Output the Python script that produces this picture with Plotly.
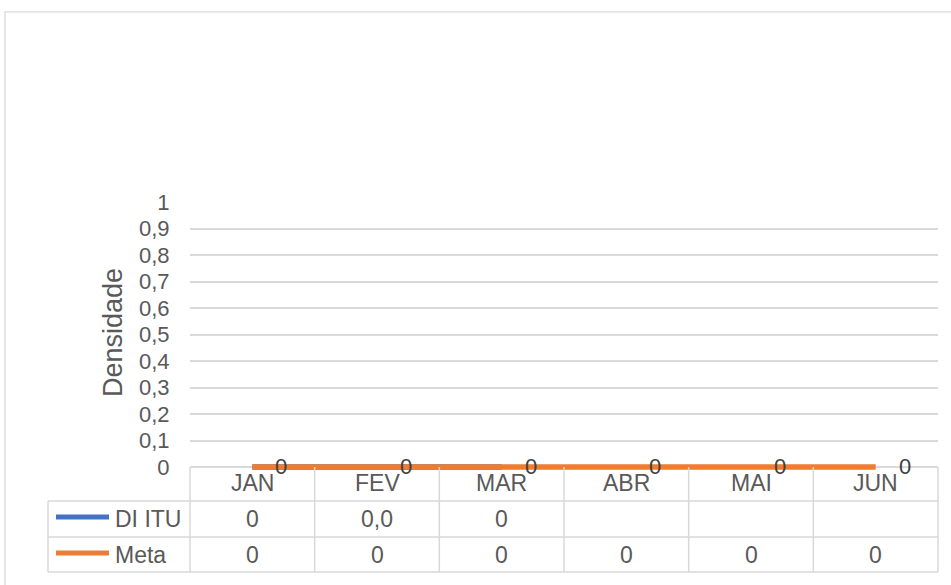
import plotly.graph_objects as go

categories = ["JAN", "FEV", "MAR", "ABR", "MAI", "JUN"]
di_itu = [0, 0.0, 0, None, None, None]
meta = [0, 0, 0, 0, 0, 0]
series_names = ["DI ITU", "Meta"]
y_title = "Densidade"

BLUE = "#4472C4"
ORANGE = "#ED7D31"
GRID = "#D9D9D9"
TXT = "#595959"
FONT = "Liberation Sans, Arial, sans-serif"

W, H = 951, 585
Y_MIN, Y_MAX = -0.03, 1.0
TOP_PIX, ONE_TENTH_PIX = 202, 26.5
PLOT_H = (Y_MAX - Y_MIN) * ONE_TENTH_PIX * 10
L, R, T = 190, 13, TOP_PIX
B = H - T - PLOT_H
PW, PH = W - L - R, PLOT_H
BOTTOM_PIX = H - B


def py(pix):
    """pixel row -> paper y"""
    return (BOTTOM_PIX - pix) / PH


def px(pix):
    """pixel column -> paper x"""
    return (pix - L) / PW


def fmt(v):
    return "" if v is None else str(v).replace(".", ",")


fig = go.Figure()
fig.add_trace(go.Scatter(x=categories, y=di_itu, mode="lines", name=series_names[0],
                         line=dict(color=BLUE, width=5.5), connectgaps=False,
                         hoverinfo="skip"))
fig.add_trace(go.Scatter(x=categories, y=meta, mode="lines", name=series_names[1],
                         line=dict(color=ORANGE, width=5.5), hoverinfo="skip"))

ann = []
# data labels
for c, v in zip(categories, meta):
    ann.append(dict(x=c, y=v, xref="x", yref="y", text=fmt(v), showarrow=False,
                    xanchor="center", yanchor="middle",
                    xshift=29, yshift=1, font=dict(size=22, color="#404040")))

# y title
ann.append(dict(x=px(113), y=py(333), xref="paper", yref="paper", text=y_title,
                textangle=-90, showarrow=False, xanchor="center", yanchor="middle",
                font=dict(size=27, color=TXT)))

# table rows
row_lines_pix = [501, 537, 572]
cat_row_center = 483
series_row_centers = [519, 555]
for c in categories:
    ann.append(dict(x=c, y=py(cat_row_center), xref="x", yref="paper", text=c,
                    xanchor="center", yanchor="middle",
                    showarrow=False, font=dict(size=23, color=TXT)))
for vals, yc in zip([di_itu, meta], series_row_centers):
    for c, v in zip(categories, vals):
        ann.append(dict(x=c, y=py(yc), xref="x", yref="paper", text=fmt(v),
                        xanchor="center", yanchor="middle",
                        showarrow=False, font=dict(size=23, color=TXT)))

shapes = []
# chart area border
shapes.append(dict(type="rect", xref="paper", yref="paper", x0=px(5), x1=px(960),
                   y0=py(600), y1=py(12), line=dict(color=GRID, width=1.3),
                   fillcolor="rgba(0,0,0,0)", layer="below"))
# horizontal table lines
for yy in row_lines_pix:
    shapes.append(dict(type="line", xref="paper", yref="paper", x0=px(48), x1=1,
                       y0=py(yy), y1=py(yy), line=dict(color=GRID, width=1.5)))
# vertical table lines
n = len(categories)
for i in range(n + 1):
    shapes.append(dict(type="line", xref="x domain", yref="paper", x0=i / n, x1=i / n,
                       y0=py(467), y1=py(row_lines_pix[-1]),
                       line=dict(color=GRID, width=1.5)))
shapes.append(dict(type="line", xref="paper", yref="paper", x0=px(48), x1=px(48),
                   y0=py(row_lines_pix[0]), y1=py(row_lines_pix[-1]),
                   line=dict(color=GRID, width=1.5)))
# legend keys
for name, col, yc in zip(series_names, [BLUE, ORANGE], series_row_centers):
    yk = yc - 2
    shapes.append(dict(type="line", xref="paper", yref="paper", x0=px(56), x1=px(109),
                       y0=py(yk), y1=py(yk), line=dict(color=col, width=5)))
    ann.append(dict(x=px(113), y=py(yc), xref="paper", yref="paper", text=name,
                    xanchor="left", yanchor="middle", showarrow=False,
                    font=dict(size=23, color=TXT)))

fig.update_layout(
    width=W, height=H,
    margin=dict(l=L, r=R, t=T, b=B, autoexpand=False),
    paper_bgcolor="white", plot_bgcolor="white",
    font=dict(family=FONT, color=TXT),
    separators=",.",
    showlegend=False,
    annotations=ann, shapes=shapes,
)
fig.update_xaxes(type="category", range=[-0.5, n - 0.5], showticklabels=False,
                 showgrid=False, zeroline=False, showline=False, ticks="",
                 fixedrange=True)
fig.update_yaxes(range=[Y_MIN, Y_MAX], tick0=0, dtick=0.1, showgrid=True,
                 gridcolor=GRID, gridwidth=1.5,
                 zeroline=False, showline=False, ticks="outside", ticklen=15,
                 tickcolor="rgba(0,0,0,0)", tickfont=dict(size=22, color=TXT),
                 fixedrange=True)

fig.write_html("out.html", config={"displayModeBar": False},
               post_script="document.body.style.margin='0';")
